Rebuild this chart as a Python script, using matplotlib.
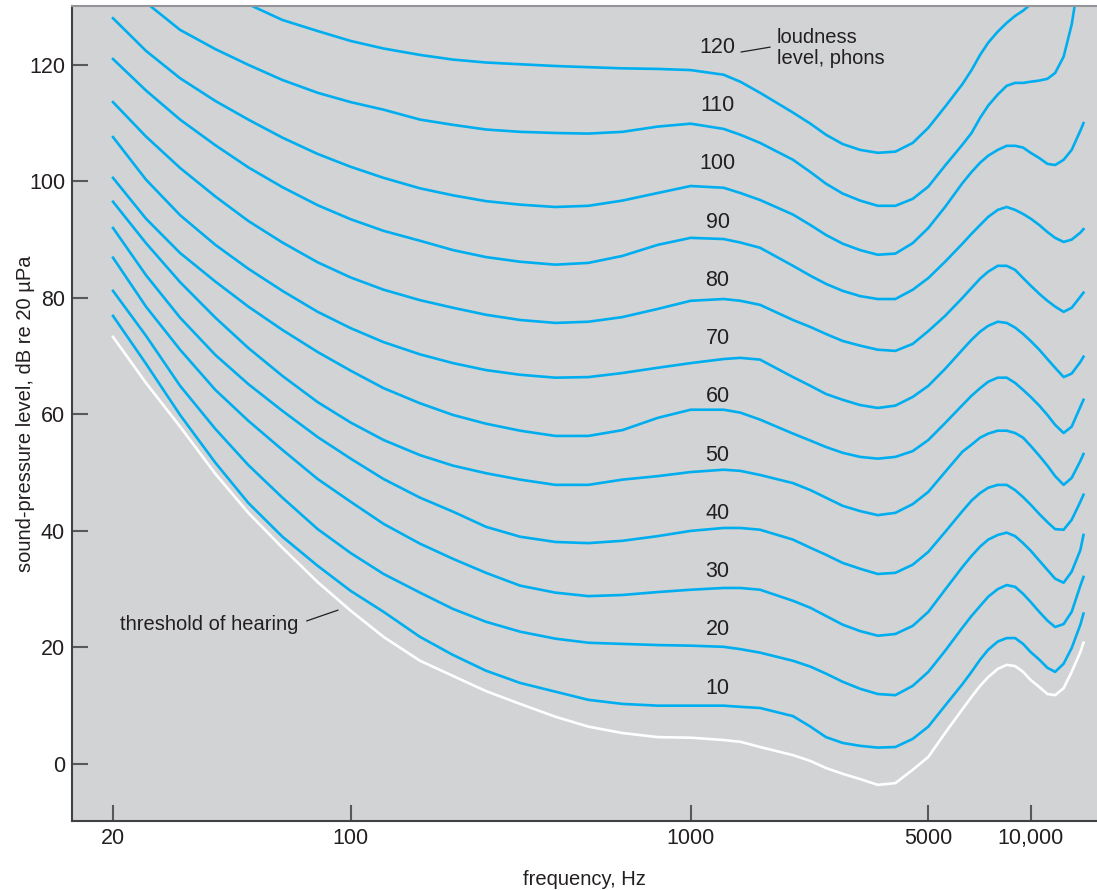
import matplotlib
matplotlib.use("Agg")
import matplotlib.pyplot as plt
from matplotlib.ticker import NullLocator

# equal-loudness contours, values (Hz, dB re 20 uPa)
freqs = [20, 25, 31.5, 40, 50, 63, 80, 100, 125, 160, 200, 250, 315, 400, 500,
         630, 800, 1000, 1250, 1400, 1600, 2000, 2250, 2500, 2800, 3150, 3550,
         4000, 4500, 5000, 5600, 6300, 6700, 7100, 7500, 8000, 8500, 9000, 9500,
         10000, 10600, 11200, 11800, 12500, 13200, 14000, 14300]

threshold = [73.3, 65.4, 57.9, 49.8, 43.1, 37.1, 31.2, 26.3, 21.8, 17.7, 15.1, 12.5,
             10.3, 8.1, 6.4, 5.3, 4.6, 4.5, 4.1, 3.8, 2.9, 1.5, 0.5, -0.7, -1.7,
             -2.6, -3.6, -3.3, -1.0, 1.2, 5.3, 9.4, 11.5, 13.4, 14.9, 16.3, 17.0,
             16.8, 15.8, 14.4, 13.2, 12.0, 11.8, 13.0, 15.8, 19.2, 20.8]
phon_10 = [76.9, 68.7, 59.9, 51.7, 44.8, 39.0, 34.0, 29.7, 26.1, 21.8, 18.7, 16.0,
           13.9, 12.4, 11.0, 10.3, 10.0, 10.0, 10.0, 9.8, 9.6, 8.2, 6.4, 4.6, 3.6,
           3.1, 2.8, 2.9, 4.3, 6.4, 10.0, 13.7, 15.8, 17.9, 19.6, 21.0, 21.6, 21.6,
           20.6, 19.2, 17.9, 16.5, 15.8, 17.2, 19.9, 23.9, 25.8]
phon_20 = [81.2, 73.5, 64.9, 57.5, 51.3, 45.7, 40.3, 36.2, 32.6, 29.4, 26.6, 24.4,
           22.7, 21.5, 20.8, 20.6, 20.4, 20.3, 20.1, 19.7, 19.1, 17.7, 16.7, 15.5,
           14.1, 12.9, 12.0, 11.8, 13.4, 15.8, 19.4, 23.4, 25.4, 27.1, 28.7, 30.0,
           30.7, 30.4, 29.2, 27.8, 26.1, 24.6, 23.5, 24.0, 26.1, 30.6, 32.1]
phon_30 = [86.9, 78.5, 71.1, 64.2, 58.9, 53.9, 48.9, 45.0, 41.2, 37.8, 35.2, 32.8,
           30.6, 29.4, 28.8, 29.0, 29.5, 29.9, 30.2, 30.2, 29.9, 28.0, 26.8, 25.4,
           23.9, 22.8, 22.0, 22.3, 23.7, 26.1, 29.9, 33.8, 35.7, 37.3, 38.5, 39.3,
           39.7, 39.1, 37.9, 36.6, 34.9, 33.3, 31.8, 31.1, 33.0, 36.7, 39.3]
phon_40 = [92.0, 83.9, 76.6, 70.2, 65.2, 60.6, 56.1, 52.4, 48.9, 45.7, 43.3, 40.7,
           39.0, 38.1, 37.9, 38.3, 39.1, 40.0, 40.5, 40.5, 40.2, 38.5, 37.1, 35.9,
           34.5, 33.5, 32.6, 32.8, 34.2, 36.4, 39.8, 43.4, 45.2, 46.5, 47.4, 47.9,
           47.9, 47.0, 45.8, 44.5, 42.9, 41.5, 40.3, 40.2, 41.9, 45.0, 46.2]
phon_50 = [96.5, 89.4, 82.7, 76.6, 71.4, 66.6, 62.1, 58.6, 55.6, 53.0, 51.2, 49.9,
           48.8, 47.9, 47.9, 48.8, 49.4, 50.1, 50.5, 50.3, 49.6, 48.2, 47.0, 45.7,
           44.3, 43.4, 42.7, 43.1, 44.6, 46.7, 50.1, 53.6, 54.8, 56.0, 56.7, 57.2,
           57.2, 56.8, 56.0, 54.6, 52.9, 51.2, 49.4, 47.9, 49.1, 52.0, 53.2]
phon_60 = [100.6, 93.6, 87.7, 82.8, 78.5, 74.5, 70.7, 67.5, 64.5, 61.9, 59.9, 58.4,
           57.2, 56.3, 56.3, 57.3, 59.4, 60.8, 60.8, 60.3, 59.1, 56.7, 55.5, 54.4,
           53.4, 52.7, 52.4, 52.7, 53.7, 55.6, 58.5, 61.6, 63.2, 64.5, 65.6, 66.3,
           66.3, 65.4, 64.2, 63.0, 61.5, 59.9, 58.2, 56.8, 57.9, 61.3, 62.5]
phon_70 = [107.6, 100.3, 94.2, 89.1, 85.0, 81.2, 77.6, 74.8, 72.4, 70.3, 68.8, 67.6,
           66.8, 66.3, 66.4, 67.1, 68.0, 68.8, 69.5, 69.7, 69.4, 66.4, 64.9, 63.5,
           62.5, 61.6, 61.1, 61.5, 63.0, 64.9, 67.8, 71.1, 72.8, 74.2, 75.2, 75.9,
           75.7, 74.9, 73.8, 72.6, 71.1, 69.5, 68.0, 66.4, 67.0, 69.0, 69.9]
phon_80 = [113.6, 107.7, 102.3, 97.4, 93.2, 89.5, 86.1, 83.5, 81.4, 79.6, 78.3, 77.1,
           76.2, 75.7, 75.9, 76.7, 78.1, 79.5, 79.8, 79.5, 78.8, 76.2, 75.0, 73.8,
           72.6, 71.8, 71.1, 70.9, 72.1, 74.3, 76.9, 80.0, 81.7, 83.3, 84.5, 85.5,
           85.5, 84.8, 83.4, 82.1, 80.7, 79.5, 78.5, 77.6, 78.3, 80.2, 80.9]
phon_90 = [121.0, 115.6, 110.6, 106.2, 102.4, 99.0, 95.9, 93.5, 91.5, 89.8, 88.2, 87.0,
           86.2, 85.7, 86.0, 87.2, 89.1, 90.3, 90.1, 89.5, 88.6, 85.5, 83.8, 82.4,
           81.2, 80.3, 79.8, 79.8, 81.4, 83.4, 86.2, 89.3, 91.0, 92.5, 93.9, 95.1,
           95.6, 95.1, 94.4, 93.6, 92.5, 91.3, 90.3, 89.6, 90.0, 91.2, 91.8]
phon_100 = [128.0, 122.4, 117.7, 113.8, 110.6, 107.5, 104.7, 102.5, 100.6, 98.8, 97.6,
            96.6, 96.0, 95.6, 95.8, 96.7, 98.0, 99.2, 98.9, 98.0, 96.8, 94.3, 92.5,
            90.8, 89.3, 88.2, 87.4, 87.6, 89.4, 92.0, 95.6, 99.7, 101.6, 103.2, 104.4,
            105.4, 106.1, 106.1, 105.8, 104.9, 104.0, 103.0, 102.8, 103.7, 105.4,
            108.7, 110.0]

# the two loudest curves run off the top of the frame
freqs_110 = [25, 31.5, 40, 50, 63, 80, 100, 125, 160, 200, 250, 315, 400, 500, 630,
             800, 1000, 1250, 1400, 1600, 2000, 2250, 2500, 2800, 3150, 3550, 4000,
             4500, 5000, 5600, 6300, 6700, 7100, 7500, 8000, 8500, 9000, 9500, 10000,
             10600, 11200, 11800, 12500, 13200, 13500]
phon_110 = [130.7, 126.0, 122.7, 120.0, 117.4, 115.2, 113.6, 112.3, 110.6, 109.7,
            108.9, 108.5, 108.3, 108.2, 108.5, 109.4, 109.9, 109.0, 108.0, 106.6,
            103.7, 101.6, 99.6, 97.9, 96.7, 95.8, 95.8, 97.0, 99.1, 102.7, 106.3,
            108.3, 110.9, 113.0, 114.9, 116.4, 116.9, 116.9, 117.1, 117.3, 117.6,
            118.6, 121.4, 126.9, 130.5]
freqs_120 = [50, 63, 80, 100, 125, 160, 200, 250, 315, 400, 500, 630, 800, 1000,
             1250, 1400, 1600, 2000, 2250, 2500, 2800, 3150, 3550, 4000, 4500, 5000,
             5600, 6300, 6700, 7100, 7500, 8000, 8500, 9000, 9500, 10000]
phon_120 = [130.4, 127.7, 125.8, 124.1, 122.8, 121.7, 120.9, 120.4, 120.1, 119.8,
            119.6, 119.4, 119.3, 119.1, 118.3, 117.1, 115.2, 111.8, 109.9, 108.0,
            106.4, 105.4, 104.9, 105.1, 106.6, 109.2, 112.8, 116.7, 119.1, 121.7,
            123.8, 125.7, 127.2, 128.4, 129.3, 130.4]

levels = [10, 20, 30, 40, 50, 60, 70, 80, 90, 100, 110, 120]
x_ticks = [20, 100, 1000, 5000, 10000]
x_ticklabels = ["20", "100", "1000", "5000", "10,000"]
y_ticks = [0, 20, 40, 60, 80, 100, 120]

plt.rcParams["font.family"] = ["Liberation Sans", "DejaVu Sans"]

BLUE = "#00aeef"
INK = "#231f20"

fig = plt.figure(figsize=(10.97, 8.90), dpi=100)
ax = fig.add_axes([72 / 1097, 69 / 890, 1025 / 1097, 815 / 890])
ax.set_facecolor("#d1d3d4")
ax.set_xscale("log")
ax.set_xlim(15.15, 15670)
ax.set_ylim(-9.8, 130.1)

curves = [phon_10, phon_20, phon_30, phon_40, phon_50, phon_60, phon_70, phon_80,
          phon_90, phon_100]
for vals in curves:
    ax.plot(freqs, vals, color=BLUE, lw=1.9)
ax.plot(freqs_110, phon_110, color=BLUE, lw=1.9)
ax.plot(freqs_120, phon_120, color=BLUE, lw=1.9)
ax.plot(freqs, threshold, color="white", lw=1.9)

# level labels sit just above each curve near 1 kHz
for lvl in levels:
    ax.text(1200, lvl + 3, str(lvl), ha="center", va="center", fontsize=15.5, color=INK)

ax.annotate("loudness\nlevel, phons", xy=(1406, 122.2), xytext=(1795, 122.9),
            ha="left", va="center", fontsize=14.5, color=INK, linespacing=1.1,
            arrowprops=dict(arrowstyle="-", color=INK, lw=0.9, relpos=(0, 0.55),
                            shrinkA=3, shrinkB=0))
ax.annotate("threshold of hearing", xy=(91.8, 26.4), xytext=(21.0, 23.9),
            ha="left", va="center", fontsize=14.5, color=INK,
            arrowprops=dict(arrowstyle="-", color=INK, lw=0.9, relpos=(1, 0.55),
                            shrinkA=4, shrinkB=0))

ax.set_xticks(x_ticks, x_ticklabels)
ax.xaxis.set_minor_locator(NullLocator())
ax.set_yticks(y_ticks)
ax.tick_params(direction="in", length=11.5, width=1.5, color="#58595b",
               labelsize=15.5, labelcolor=INK, pad=5)

for side in ("left", "bottom"):
    ax.spines[side].set_color("#414042")
    ax.spines[side].set_linewidth(1.5)
ax.spines["top"].set_color("#939598")
ax.spines["top"].set_linewidth(1.5)
ax.spines["right"].set_visible(False)

ax.set_xlabel("frequency, Hz", fontsize=14.5, color=INK)
ax.set_ylabel("sound-pressure level, dB re 20 \u00b5Pa", fontsize=14.5, color=INK)
ax.xaxis.set_label_coords(0.5, -0.06)
ax.yaxis.set_label_coords(-0.036, 0.5)

fig.savefig("out.png", dpi=100)
